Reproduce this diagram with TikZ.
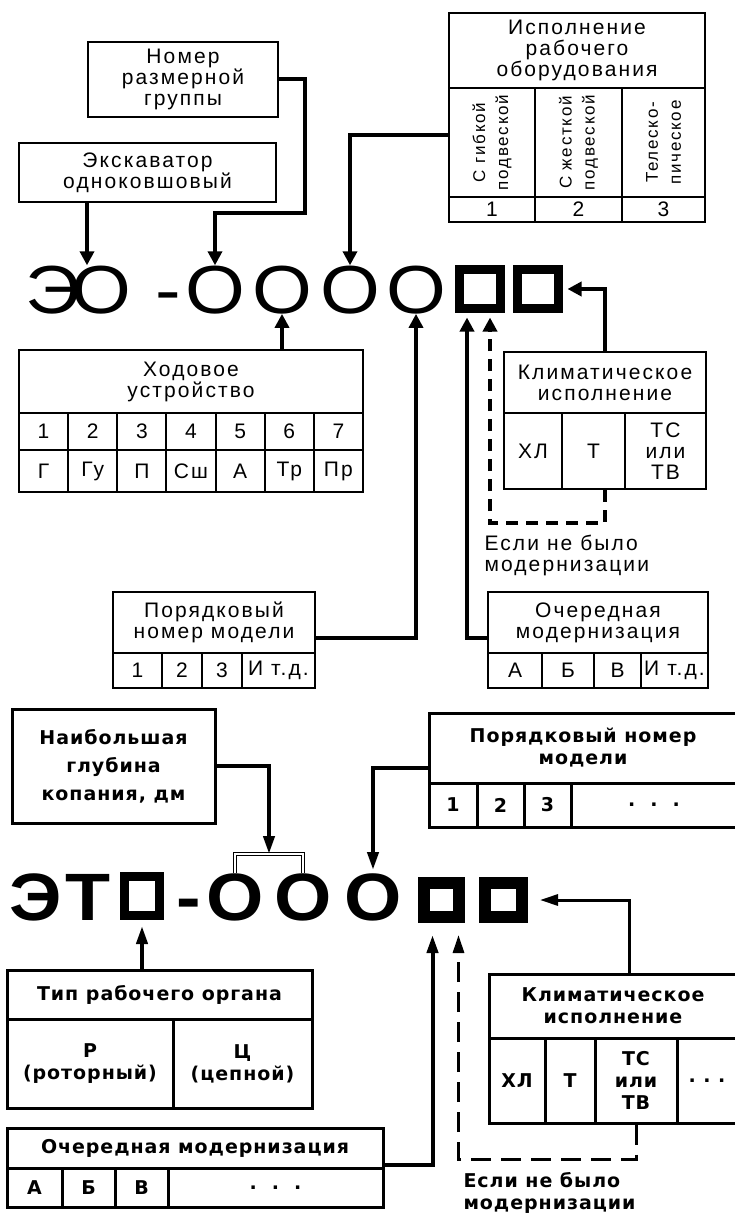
\documentclass[tikz,border=0pt]{standalone}
\usepackage{fontspec}
\setmainfont{Liberation Sans}
\newfontfamily\af[LetterSpace=10]{Liberation Sans}
\newfontfamily\bfam[LetterSpace=5]{DejaVu Sans}
\newfontfamily\glyphf{Liberation Sans}
\usetikzlibrary{arrows.meta,calc}
\tikzset{
  ttop/.style={font=\af\fontsize{21}{21}\selectfont},
  tbot/.style={font=\bfam\bfseries\fontsize{19}{22}\selectfont},
  cell/.style={draw, line width=2pt, inner sep=0pt, align=center, ttop},
  cellb/.style={draw, line width=3pt, inner sep=0pt, align=center, tbot},
  glyph/.style={font=\glyphf\fontsize{68}{68}\selectfont, inner sep=0pt, anchor=base, xscale=1.13, transform shape},
  glyphb/.style={font=\glyphf\bfseries\fontsize{67}{67}\selectfont, inner sep=0pt, anchor=base, xscale=1.1, transform shape},
  conn/.style={line width=4pt, -{Triangle[width=14pt,length=14pt]}},
  dconn/.style={line width=4pt, dash pattern=on 12pt off 8pt, -{Triangle[width=14pt,length=14pt]}},
  conn2/.style={line width=4pt, -{Triangle[width=11pt,length=18pt]}},
  conn3/.style={line width=3pt, -{Triangle[width=11pt,length=18pt]}},
  dconn2/.style={line width=3pt, dash pattern=on 20pt off 10pt, -{Triangle[width=11pt,length=18pt]}},
  brk/.style={line width=1.2pt, double=white, double distance=2.5pt},
}
\begin{document}
\begin{tikzpicture}[x=1pt,y=-1pt]
\useasboundingbox[fill=white] (0,0) rectangle (735,1214);

% ===================== TOP SCHEME =====================
\node[cell, minimum width=190pt, minimum height=75pt] (nom) at (183,79.5) {Номер\\размерной\\группы};
\node[cell, minimum width=257pt, minimum height=59pt] (exk) at (147.5,172.5) {Экскаватор\\одноковшовый};

\node[cell, minimum width=256pt, minimum height=75pt] (isp) at (577,50.5) {Исполнение\\рабочего\\оборудования};
\node[cell, minimum width=86pt, minimum height=109pt] (ic1) at (492,142.5) {};
\node[cell, minimum width=87pt, minimum height=109pt] (ic2) at (578.5,142.5) {};
\node[cell, minimum width=83pt, minimum height=109pt] (ic3) at (663.5,142.5) {};
\node[rotate=90, align=center, font=\af\fontsize{17}{23}\selectfont] (it1) at (ic1) {С гибкой\\подвеской};
\node[rotate=90, align=center, font=\af\fontsize{17}{23}\selectfont] (it2) at (ic2) {С жесткой\\подвеской};
\node[rotate=90, align=center, font=\af\fontsize{17}{23}\selectfont] (it3) at (ic3) {Телеско-\\пическое};
\node[cell, minimum width=86pt, minimum height=25pt] (in1) at (492,209.5) {1};
\node[cell, minimum width=87pt, minimum height=25pt] (in2) at (578.5,209.5) {2};
\node[cell, minimum width=83pt, minimum height=25pt] (in3) at (663.5,209.5) {3};

% big code ЭО-ОООО□□
\node[glyph] (e1) at (53,313) {Э};
\node[glyph] (e2) at (101,313) {О};
\node[glyph] (dsh) at (168,313) {-};
\node[glyph] (o1) at (215,313) {О};
\node[glyph] (o2) at (282,313) {О};
\node[glyph] (o3) at (350,313) {О};
\node[glyph] (o4) at (416,313) {О};
\node[draw, line width=9pt, minimum width=41pt, minimum height=39pt, inner sep=0pt] (sq1) at (480,289) {};
\node[draw, line width=9pt, minimum width=41pt, minimum height=39pt, inner sep=0pt] (sq2) at (538,289) {};
\coordinate (sq1l) at ($(sq1.south)+(-13,4.5)$);
\coordinate (sq1r) at ($(sq1.south)+(10,4.5)$);

% Ходовое устройство
\node[cell, minimum width=344pt, minimum height=63pt] (hod) at (191,381.5) {Ходовое\\устройство};
\foreach \n/\l [count=\i] in {1/Г,2/Гу,3/П,4/Сш,5/А,6/Тр,7/Пр} {
  \node[cell, minimum width=49.14pt, minimum height=37pt] (hn\i) at ({19+49.14*(\i-0.5)},431.5) {\n};
  \node[cell, minimum width=49.14pt, minimum height=42pt] (hl\i) at ({19+49.14*(\i-0.5)},471) {\l};
}

% Климатическое исполнение (top)
\node[cell, minimum width=202pt, minimum height=61pt] (klim) at (605,382.5) {Климатическое\\исполнение};
\node[cell, minimum width=58pt, minimum height=76pt] (kc1) at (533,451) {ХЛ};
\node[cell, minimum width=63pt, minimum height=76pt] (kc2) at (593.5,451) {Т};
\node[cell, minimum width=81pt, minimum height=76pt] (kc3) at (665.5,451) {ТС\\или\\ТВ};

\node[anchor=base west, align=left, ttop] (esl) at (481,571) {Если не было\\модернизации};

% Порядковый номер модели (top)
\node[cell, minimum width=202pt, minimum height=61pt] (por) at (214,622.5) {Порядковый\\номер модели};
\node[cell, minimum width=49pt, minimum height=35pt] (pc1) at (137.5,670.5) {1};
\node[cell, minimum width=40pt, minimum height=35pt] (pc2) at (182,670.5) {2};
\node[cell, minimum width=40pt, minimum height=35pt] (pc3) at (222,670.5) {3};
\node[cell, minimum width=73pt, minimum height=35pt] (pc4) at (278.5,670.5) {И т.д.};

% Очередная модернизация (top)
\node[cell, minimum width=220pt, minimum height=61pt] (och) at (598,622.5) {Очередная\\модернизация};
\node[cell, minimum width=54pt, minimum height=35pt] (oc1) at (515,670.5) {А};
\node[cell, minimum width=52pt, minimum height=35pt] (oc2) at (568,670.5) {Б};
\node[cell, minimum width=47pt, minimum height=35pt] (oc3) at (617.5,670.5) {В};
\node[cell, minimum width=67pt, minimum height=35pt] (oc4) at (674.5,670.5) {И т.д.};

% connectors (top)
\draw[conn] ($(exk.south west)+(69,0)$) coordinate (a1) -- (a1 |- e2.north);
\draw[conn] (nom.east) -| (305,213) -| (o1.north);
\draw[conn] ($(ic1.west)+(0,-7)$) -| (o3.north);
\draw[conn] (hod.north -| o2.south) -- (o2.south);
\draw[conn] ($(por.east)+(0,15)$) -| (o4.south);
\draw[conn] ($(och.west)+(0,15)$) -| (sq1l);
\draw[conn] (klim.north) |- ($(sq2.east)+(4.5,0)$);
\draw[dconn] (klim.north |- kc2.south) -- ++(0,33) -| (sq1r);

% ===================== BOTTOM SCHEME =====================
\node[cellb, minimum width=203pt, minimum height=114pt, font=\bfam\bfseries\fontsize{19}{28}\selectfont] (nai) at (113.5,766) {Наибольшая\\глубина\\копания, дм};

\node[cellb, minimum width=308pt, minimum height=70pt] (por2) at (583,748) {Порядковый номер\\модели};
\node[cellb, minimum width=48pt, minimum height=44pt] (pb1) at (453,805) {1};
\node[cellb, minimum width=47pt, minimum height=44pt] (pb2) at (500.5,805) {2};
\node[cellb, minimum width=47pt, minimum height=44pt] (pb3) at (547.5,805) {3};
\node[cellb, minimum width=166pt, minimum height=44pt] (pb4) at (654,805) {.\ \ .\ \ .};

% big code ЭТ□-ООО□□
\node[glyphb] (be1) at (36,920) {Э};
\node[glyphb] (bt) at (88,920) {Т};
\node[draw, line width=9pt, minimum width=35pt, minimum height=39pt, inner sep=0pt] (sqA) at (142,896) {};
\node[glyphb] (bd) at (189,920) {-};
\node[glyphb] (bo1) at (235,920) {О};
\node[glyphb] (bo2) at (303,920) {О};
\node[glyphb] (bo3) at (373,920) {О};
\node[draw, line width=12pt, minimum width=35pt, minimum height=34pt, inner sep=0pt] (sqB) at (441.5,900) {};
\node[draw, line width=12pt, minimum width=37pt, minimum height=34pt, inner sep=0pt] (sqC) at (503.5,900) {};

\coordinate (bkl) at (bo1.north |- 0,854);
\coordinate (bkr) at (bo2.north |- 0,854);
\draw[brk] (bo1.north) -- (bkl) -- (bkr) -- (bo2.north);

% Тип рабочего органа
\node[cellb, minimum width=305pt, minimum height=49pt] (tip) at (159.5,994.5) {Тип рабочего органа};
\node[cellb, minimum width=166pt, minimum height=89pt] (tc1) at (90,1063.5) {Р\\(роторный)};
\node[cellb, minimum width=139pt, minimum height=89pt] (tc2) at (242.5,1063.5) {Ц\\(цепной)};

% Очередная модернизация (bottom)
\node[cellb, minimum width=376pt, minimum height=40pt] (och2) at (195,1148) {Очередная модернизация};
\node[cellb, minimum width=55pt, minimum height=39pt] (ob1) at (34.5,1187.5) {А};
\node[cellb, minimum width=53pt, minimum height=39pt] (ob2) at (88.5,1187.5) {Б};
\node[cellb, minimum width=53pt, minimum height=39pt] (ob3) at (141.5,1187.5) {В};
\node[cellb, minimum width=215pt, minimum height=39pt] (ob4) at (275.5,1187.5) {.\ \ .\ \ .};

% Климатическое исполнение (bottom)
\node[cellb, minimum width=248pt, minimum height=64pt, font=\bfam\bfseries\fontsize{19}{22}\selectfont] (kl2) at (613,1006) {Климатическое\\исполнение};
\node[cellb, minimum width=56pt, minimum height=85pt] (kb1) at (517,1080.5) {ХЛ};
\node[cellb, minimum width=50pt, minimum height=85pt] (kb2) at (570,1080.5) {Т};
\node[cellb, minimum width=82pt, minimum height=85pt] (kb3) at (636,1080.5) {ТС\\или\\ТВ};
\node[cellb, minimum width=60pt, minimum height=85pt] (kb4) at (707,1080.5) {.\ .\ .};

\node[anchor=base west, align=left, tbot] (esl2) at (460,1209) {Если не было\\модернизации};

% connectors (bottom)
\coordinate (sqBl) at ($(sqB.south)+(-9,12)$);
\coordinate (sqBr) at ($(sqB.south)+(17,12)$);
\draw[conn2] (nai.east) -| ($(bkl)!0.5!(bkr)$);
\draw[conn2, shorten >=3pt] ($(por2.west)+(0,20)$) -| (bo3.north);
\draw[conn2] (tip.north -| sqA.south) -- ($(sqA.south)+(0,6)$);
\draw[conn2] ($(och2.east)+(0,17)$) -| (sqBl);
\draw[conn3] (kl2.north -| 629,0) |- ($(sqC.east)+(12,0)$);
\draw[dconn2] (kb3.south) -- ++(0,35) -| (sqBr);
\end{tikzpicture}
\end{document}
